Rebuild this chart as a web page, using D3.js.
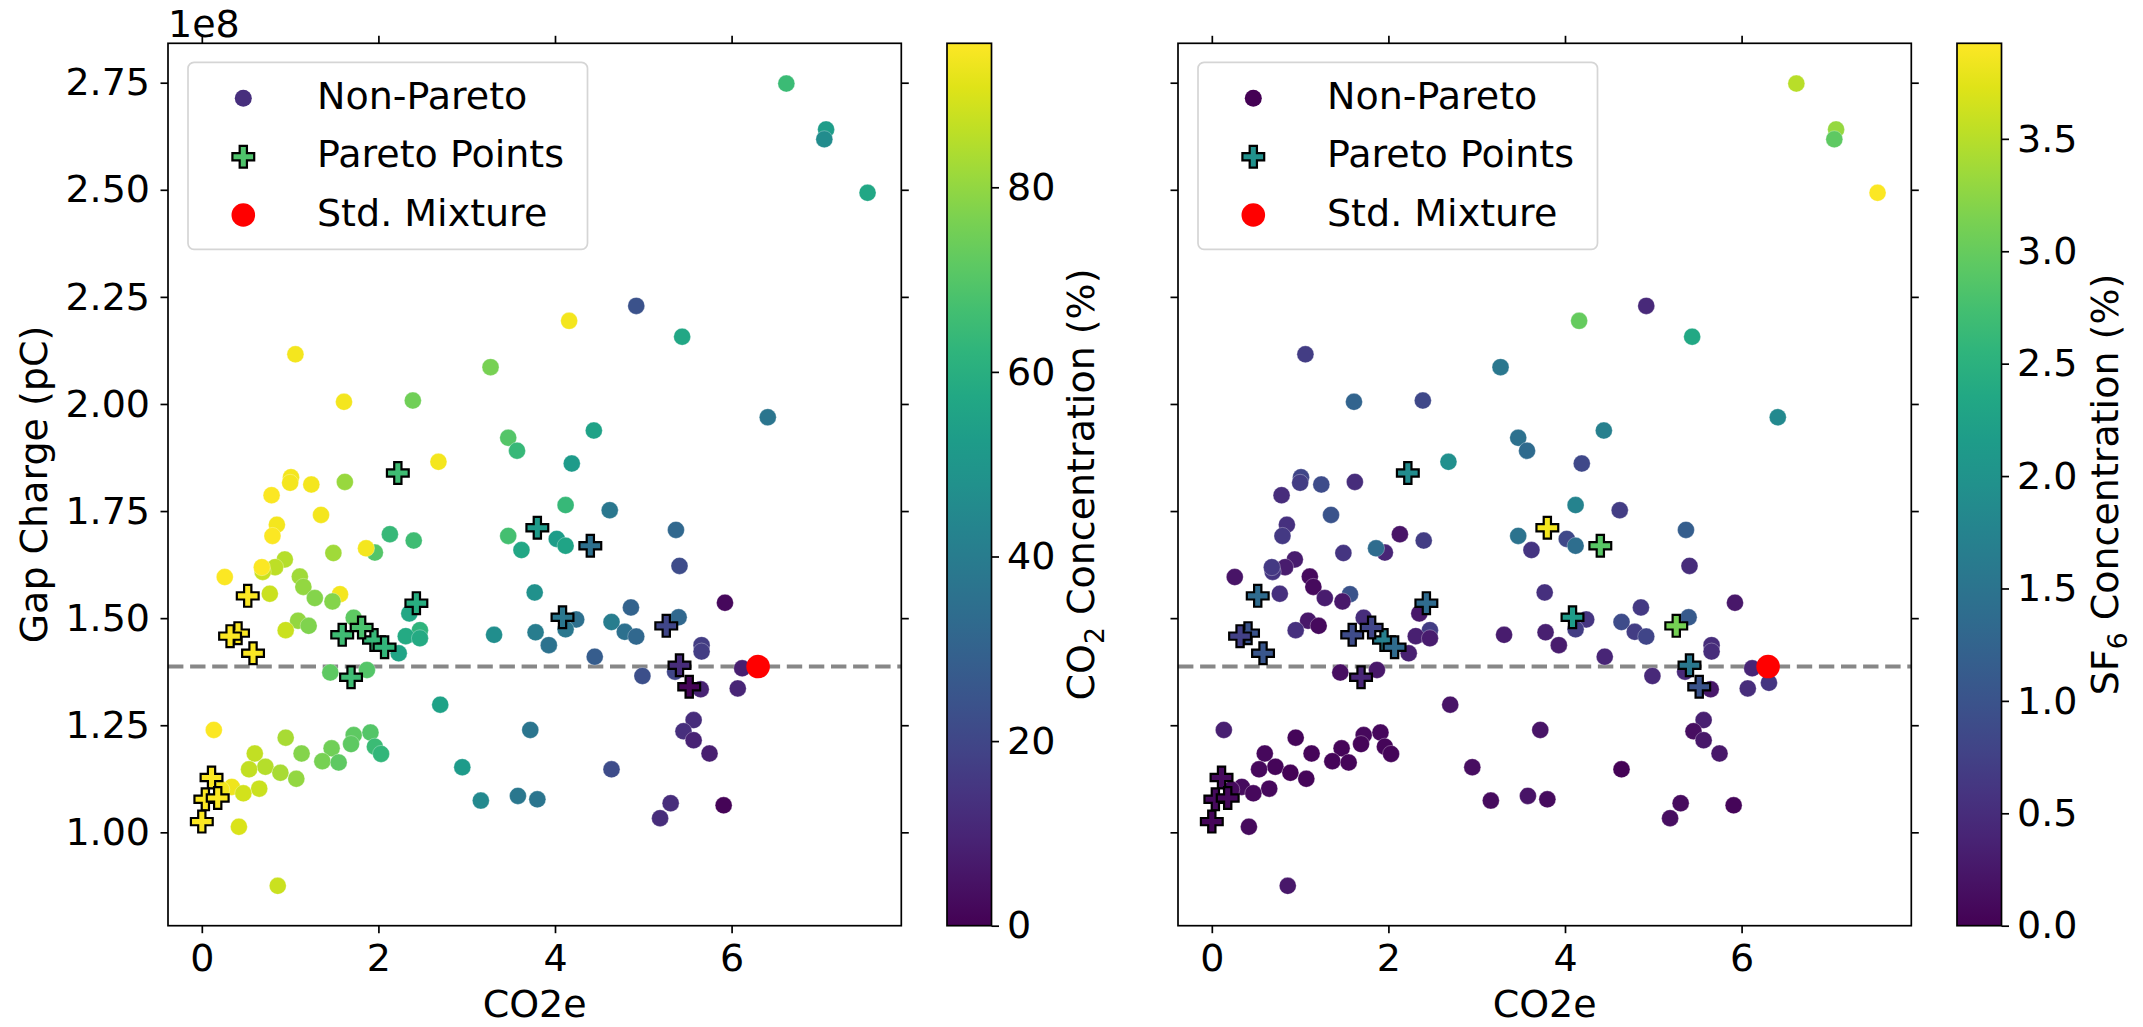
<!DOCTYPE html>
<html>
<head>
<meta charset="utf-8">
<title>Gap Charge vs CO2e</title>
<script src="https://d3js.org/d3.v7.min.js"></script>
<style>
  body { margin: 0; background: #fff; }
  svg { display: block; font-family: "DejaVu Sans", sans-serif; }
</style>
</head>
<body>
<svg width="2143" height="1027"></svg>
<script>
// ---- data (gap charge in units of 1e8 pC) ----
// non-Pareto mixtures
const npCO2e = [4.92, 4.16, 5.44, 1.06, 3.27, 1.61, 2.39, 4.44, 3.47, 3.57, 2.68, 4.19, 4.12, 4.62,
  1.01, 1.00, 1.24, 1.62, 0.79, 1.35, 0.85, 0.80, 2.13, 2.40, 1.96, 1.86, 1.49, 0.94, 0.83, 0.69, 0.68,
  0.26, 1.11, 1.15, 0.77, 1.28, 1.565, 1.48, 2.35, 1.72, 1.09, 1.21, 0.95, 2.47, 2.31, 2.47, 2.23,
  1.455, 1.87, 3.31, 3.47, 3.62, 4.02, 4.12, 3.77, 3.78, 3.93, 4.24, 4.12, 4.45, 4.64, 4.79, 4.92,
  4.86, 4.99, 5.37, 5.41, 5.40, 5.925, 5.66, 5.66, 5.36, 5.65, 6.12, 6.07, 5.57, 5.455, 5.57, 5.75,
  5.31, 5.19, 5.91, 4.64, 6.62, 7.07, 7.05, 7.54, 6.41, 2.70, 2.95, 3.16, 3.58, 3.80, 3.72,
  0.136, 0.95, 0.60, 1.13, 1.47, 1.72, 1.69, 1.91, 1.96, 2.03, 1.365, 1.55, 0.72, 0.535, 0.89, 1.07,
  0.34, 0.22, 0.65, 0.47, 0.42, 0.86, 6.31];
const npGap = [2.229, 2.194, 2.157, 2.116, 2.086, 2.005, 2.008, 1.938, 1.921, 1.891, 1.865, 1.861, 1.764, 1.752,
  1.829, 1.816, 1.812, 1.818, 1.787, 1.741, 1.718, 1.692, 1.696, 1.681, 1.653, 1.663, 1.652, 1.637, 1.619, 1.608, 1.619,
  1.596, 1.597, 1.573, 1.557, 1.547, 1.556, 1.539, 1.511, 1.501, 1.494, 1.482, 1.472, 1.472, 1.458, 1.453, 1.418,
  1.373, 1.379, 1.461, 1.692, 1.659, 1.685, 1.669, 1.560, 1.467, 1.437, 1.497, 1.474, 1.410, 1.491, 1.468, 1.457,
  1.525, 1.365, 1.706, 1.622, 1.502, 1.536, 1.437, 1.422, 1.375, 1.334, 1.383, 1.336, 1.262, 1.236, 1.215, 1.184,
  1.068, 1.033, 1.063, 1.147, 2.748, 2.641, 2.618, 2.493, 1.969, 1.298, 1.152, 1.074, 1.085, 1.077, 1.239,
  1.239, 1.221, 1.184, 1.184, 1.196, 1.227, 1.206, 1.233, 1.200, 1.183, 1.166, 1.163, 1.153, 1.147, 1.139, 1.125,
  1.106, 1.100, 1.102, 1.091, 1.013, 0.875, 1.349];
// CO2 concentration (%), null = not drawn in the left panel
const npCO2 = [24, 94, 57, 94, 76, 94, 75, 55, 70, 64, 94, 52, 64, 38,
  94, 94, 94, 81, 95, 94, 94, 95, 64, 66, 70, 94, 82, 85, 86, 88, 95,
  95, 82, 80, 88, 78, 94, 78, 57, 72, 80, 77, 88, 62, 58, 58, 56,
  72, 70, 47, 67, 57, 53, 56, 48, 40, 36, 35, 38, 28, 40, 35, 32,
  30, 23, 32, 22, 32, 2, 17, 17, 20, 9, 8, 10, 12, 13, 9, 8,
  12, 12, 1, 22, 65, 53, 46, 57, 37, 55, 52, 45, 38, 37, 37,
  95, 83, 87, 78, 75, 72, 72, 70, 65, 63, 76, 72, 85, 87, 83, 80,
  93, 94, 88, 89, 90, 88, null];
// SF6 concentration (%)
const npSF6 = [0.45, 3.0, 2.35, 0.7, 1.55, 1.25, 0.85, 1.7, 1.45, 1.35, 1.95, 0.85, 1.75, 0.7,
  0.8, 0.7, 0.9, 0.5, 0.5, 1.0, 0.55, 0.65, 0.2, 0.7, 0.4, 1.37, 0.6, 0.3, 0.3, 0.6, 0.65,
  0.2, 0.1, 0.1, 0.55, 0.3, 1.0, 0.25, 0.25, 0.5, 0.25, 0.1, 0.55, 0.7, 0.35, 0.3, 0.35,
  0.15, 0.25, 0.3, 1.5, 0.6, 0.85, 1.4, 0.55, 0.35, 0.3, 0.6, 0.7, 0.4, 0.9, 0.7, 0.8,
  0.65, 0.45, 1.15, 0.5, 1.1, 0.25, 0.5, 0.5, 0.45, 0.25, 0.4, 0.5, 0.35, 0.15, 0.25, 0.25,
  0.12, 0.15, 0.05, 0.02, 3.5, 3.3, 2.95, 3.9, 1.85, 0.2, 0.15, 0.12, 0.2, 0.12, 0.2,
  0.35, 0.05, 0.08, 0.05, 0.05, 0.08, 0.05, 0.08, 0.05, 0.05, 0.05, 0.05, 0.05, 0.08, 0.02, 0.05,
  0.12, 0.1, 0.08, 0.08, 0.1, 0.25, 0.6];

// Pareto points
const pCO2e = [2.22, 0.52, 2.43, 1.95, 1.59, 1.81, 2.07, 0.41, 0.32, 0.58, 1.69, 0.11, 0.04, 0.18, 0.00,
  3.80, 4.40, 4.085, 5.26, 5.41, 5.52];
const pGap = [1.839, 1.552, 1.535, 1.449, 1.461, 1.478, 1.432, 1.465, 1.458, 1.418, 1.362, 1.128, 1.077, 1.080, 1.025,
  1.711, 1.669, 1.502, 1.482, 1.390, 1.340];
const pCO2 = [66, 95, 60, 64, 66, 68, 63, 95, 95, 95, 66, 95, 95, 95, 95, 52, 35, 38, 20, 12, 1];
const pSF6 = [1.9, 1.35, 1.35, 1.7, 0.9, 0.8, 1.35, 1.0, 0.75, 1.05, 0.4, 0.1, 0.1, 0.08, 0.05,
  3.85, 2.9, 2.15, 3.1, 1.55, 1.0];

// standard mixture
const stdCO2e = 6.30, stdGap = 1.387;

const xTicks = [0, 2, 4, 6];
const yTicks = [1.00, 1.25, 1.50, 1.75, 2.00, 2.25, 2.50, 2.75];
const co2Ticks = [0, 20, 40, 60, 80];
const sf6Ticks = [0, 0.5, 1.0, 1.5, 2.0, 2.5, 3.0, 3.5];

// ---- layout ----
const svg = d3.select("svg");
const FS = 38;
const TOP = 43.3, BOTTOM = 925.7, PW = 733.3, TICK = 7.5;
const xDomain = [-0.383, 7.922];
const y = d3.scaleLinear().domain([0.782, 2.842]).range([BOTTOM, TOP]);

const defs = svg.append("defs");
const grad = defs.append("linearGradient").attr("id", "viridis")
  .attr("x1", 0).attr("y1", 1).attr("x2", 0).attr("y2", 0);
d3.range(0, 1.0001, 0.05).forEach(t => {
  grad.append("stop").attr("offset", t).attr("stop-color", d3.interpolateViridis(t));
});

function styleAxis(sel) {
  sel.attr("font-size", FS).attr("font-family", "DejaVu Sans, sans-serif");
  sel.selectAll(".domain").remove();
  sel.selectAll("line").attr("stroke", "#000").attr("stroke-width", 1.7);
  sel.selectAll("text").attr("fill", "#000");
}

function plusPath(s, a) {
  return `M${-a},${-s}H${a}V${-a}H${s}V${a}H${a}V${s}H${-a}V${a}H${-s}V${-a}H${-a}Z`;
}

function drawPanel(cfg) {
  const x = d3.scaleLinear().domain(xDomain).range([cfg.left, cfg.left + PW]);
  const color = d3.scaleSequential(d3.interpolateViridis).domain(cfg.cDomain);
  const g = svg.append("g");

  // reference line at the standard mixture
  g.append("line")
    .attr("x1", cfg.left).attr("x2", cfg.left + PW)
    .attr("y1", y(stdGap)).attr("y2", y(stdGap))
    .attr("stroke", "#878787").attr("stroke-width", 4.1)
    .attr("stroke-dasharray", "15.4 6.7");

  // non-Pareto
  const np = npCO2e.map((d, i) => ({ x: d, y: npGap[i], c: cfg.npC[i] }))
    .filter(d => d.c !== null);
  g.append("g").selectAll("circle").data(np).enter().append("circle")
    .attr("cx", d => x(d.x)).attr("cy", d => y(d.y)).attr("r", 8.5)
    .attr("fill", d => color(d.c))
    .attr("stroke", "#fff").attr("stroke-width", 0.6).attr("stroke-opacity", 0.5);

  // Pareto
  const pp = pCO2e.map((d, i) => ({ x: d, y: pGap[i], c: cfg.pC[i] }));
  g.append("g").selectAll("path").data(pp).enter().append("path")
    .attr("d", plusPath(10.9, 3.63))
    .attr("transform", d => `translate(${x(d.x)},${y(d.y)})`)
    .attr("fill", d => color(d.c))
    .attr("stroke", "#000").attr("stroke-width", 2.2).attr("stroke-linejoin", "miter");

  // standard mixture
  g.append("circle").attr("cx", x(stdCO2e)).attr("cy", y(stdGap)).attr("r", 11.8).attr("fill", "#ff0000");

  // ticks on all four sides
  g.append("g").attr("transform", `translate(0,${BOTTOM})`)
    .call(d3.axisBottom(x).tickValues(xTicks).tickSize(TICK).tickSizeOuter(0).tickPadding(11).tickFormat(d3.format("d")))
    .call(styleAxis);
  g.append("g").attr("transform", `translate(0,${TOP})`)
    .call(d3.axisTop(x).tickValues(xTicks).tickSize(TICK).tickSizeOuter(0).tickFormat(""))
    .call(styleAxis);
  g.append("g").attr("transform", `translate(${cfg.left},0)`)
    .call(d3.axisLeft(y).tickValues(yTicks).tickSize(TICK).tickSizeOuter(0).tickPadding(10.5)
      .tickFormat(cfg.yLabels ? d3.format(".2f") : ""))
    .call(styleAxis);
  g.append("g").attr("transform", `translate(${cfg.left + PW},0)`)
    .call(d3.axisRight(y).tickValues(yTicks).tickSize(TICK).tickSizeOuter(0).tickFormat(""))
    .call(styleAxis);

  // frame
  g.append("rect").attr("x", cfg.left).attr("y", TOP).attr("width", PW).attr("height", BOTTOM - TOP)
    .attr("fill", "none").attr("stroke", "#000").attr("stroke-width", 1.7);

  // x label
  g.append("text").attr("x", cfg.left + PW / 2).attr("y", 1017).attr("text-anchor", "middle")
    .attr("font-size", FS).text("CO2e");

  if (cfg.yLabels) {
    g.append("text").attr("transform", `translate(47,${(TOP + BOTTOM) / 2}) rotate(-90)`)
      .attr("text-anchor", "middle").attr("font-size", FS).text("Gap Charge (pC)");
    g.append("text").attr("x", cfg.left).attr("y", 37).attr("font-size", FS).text("1e8");
  }

  // legend
  const lg = g.append("g").attr("transform", `translate(${cfg.left + 20},62.3)`);
  lg.append("rect").attr("width", 399.5).attr("height", 187).attr("rx", 6)
    .attr("fill", "#fff").attr("fill-opacity", 0.8)
    .attr("stroke", "#d5d5d5").attr("stroke-width", 1.7);
  const mx = 55.3, rows = [36, 94.4, 152.7];
  lg.append("circle").attr("cx", mx).attr("cy", rows[0]).attr("r", 8.5).attr("fill", cfg.legendNp);
  lg.append("path").attr("d", plusPath(10.9, 3.63)).attr("transform", `translate(${mx},${rows[1]})`)
    .attr("fill", cfg.legendP).attr("stroke", "#000").attr("stroke-width", 2.2);
  lg.append("circle").attr("cx", mx).attr("cy", rows[2]).attr("r", 11.8).attr("fill", "#ff0000");
  ["Non-Pareto", "Pareto Points", "Std. Mixture"].forEach((t, i) => {
    lg.append("text").attr("x", 129).attr("y", rows[i] + 10.7).attr("font-size", FS).text(t);
  });
}

function drawColorbar(cfg) {
  const c = d3.scaleLinear().domain(cfg.domain).range([BOTTOM, TOP]);
  const g = svg.append("g");
  g.append("rect").attr("x", cfg.left).attr("y", TOP).attr("width", 44.5).attr("height", BOTTOM - TOP)
    .attr("fill", "url(#viridis)").attr("stroke", "#000").attr("stroke-width", 1.7);
  g.append("g").attr("transform", `translate(${cfg.left + 44.5},0)`)
    .call(d3.axisRight(c).tickValues(cfg.ticks).tickSize(TICK).tickSizeOuter(0).tickPadding(8).tickFormat(cfg.fmt))
    .call(styleAxis);
  const t = g.append("text").attr("transform", `translate(${cfg.labelX},${(TOP + BOTTOM) / 2}) rotate(-90)`)
    .attr("text-anchor", "middle").attr("font-size", FS);
  t.append("tspan").text(cfg.chem);
  t.append("tspan").attr("font-size", FS * 0.7).attr("dy", 9.5).text(cfg.sub);
  t.append("tspan").attr("dy", -9.5).text(" Concentration (%)");
}

drawPanel({ left: 168, npC: npCO2, pC: pCO2, cDomain: [0, 95.6], yLabels: true,
  legendNp: "#472f7d", legendP: "#4fc36b" });
drawColorbar({ left: 947, domain: [0, 95.6], ticks: co2Ticks, fmt: d3.format("d"),
  chem: "CO", sub: "2", labelX: 1094 });

drawPanel({ left: 1178, npC: npSF6, pC: pSF6, cDomain: [0, 3.925], yLabels: false,
  legendNp: "#440154", legendP: "#21918c" });
drawColorbar({ left: 1957, domain: [0, 3.925], ticks: sf6Ticks, fmt: d3.format(".1f"),
  chem: "SF", sub: "6", labelX: 2117.5 });
</script>
</body>
</html>
